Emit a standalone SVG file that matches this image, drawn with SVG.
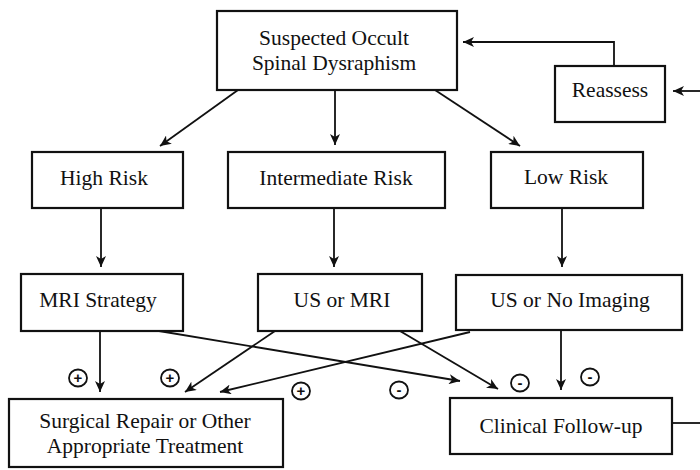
<svg xmlns="http://www.w3.org/2000/svg" width="700" height="470" viewBox="0 0 700 470">
<defs>
<marker id="ah" markerWidth="12" markerHeight="10" refX="11" refY="5" orient="auto" markerUnits="userSpaceOnUse">
<path d="M0,0 L11,5 L0,10 L3,5 z" fill="#111"/>
</marker>
<style>
.box{fill:#fff;stroke:#111;stroke-width:2.2}
.t{font-family:"Liberation Serif","Times New Roman","DejaVu Serif",serif;font-size:21.5px;fill:#111;text-anchor:middle}
.c{fill:none;stroke:#111;stroke-width:1.8}
.a{marker-end:url(#ah)}
.sgn{fill:none;stroke:#111;stroke-width:1.8}
.st{font-family:"Liberation Sans",Arial,sans-serif;font-size:15px;font-weight:bold;fill:#111;text-anchor:middle}
</style>
</defs>
<rect width="700" height="470" fill="#fff"/>
<g id="connectors">
<line class="c a" x1="238" y1="90" x2="160" y2="146"/>
<line class="c a" x1="335" y1="90" x2="335" y2="145"/>
<line class="c a" x1="435" y1="90" x2="520" y2="146"/>
<polyline class="c a" points="614,66 614,42 463,42"/>
<line class="c a" x1="700" y1="91" x2="673" y2="91"/>
<line class="c" x1="672" y1="423" x2="700" y2="423"/>
<line class="c a" x1="101" y1="208" x2="101" y2="267"/>
<line class="c a" x1="334" y1="208" x2="334" y2="267"/>
<line class="c a" x1="562" y1="208" x2="562" y2="267"/>
<line class="c a" x1="100" y1="331" x2="100" y2="392"/>
<line class="c a" x1="159" y1="331" x2="460" y2="381"/>
<line class="c a" x1="275" y1="331" x2="185" y2="392"/>
<line class="c a" x1="400" y1="331" x2="498" y2="389"/>
<line class="c a" x1="470" y1="332" x2="220" y2="392"/>
<line class="c a" x1="561" y1="330" x2="561" y2="390"/>
</g>
<g id="signs">
<ellipse class="sgn" cx="78" cy="378" rx="9" ry="8.5"/><text class="st" x="78" y="383">+</text>
<ellipse class="sgn" cx="170" cy="378" rx="9" ry="8.5"/><text class="st" x="170" y="383">+</text>
<ellipse class="sgn" cx="301" cy="391" rx="9" ry="8.5"/><text class="st" x="301" y="396">+</text>
<ellipse class="sgn" cx="399" cy="390" rx="9" ry="8.5"/><text class="st" x="399" y="395">-</text>
<ellipse class="sgn" cx="520" cy="383" rx="9" ry="8.5"/><text class="st" x="520" y="388">-</text>
<ellipse class="sgn" cx="590" cy="377" rx="9" ry="8.5"/><text class="st" x="590" y="382">-</text>
</g>
<g id="suspected">
<rect class="box" x="217" y="11" width="240" height="79"/>
<text class="t" x="334" y="45" font-family="Liberation Serif, serif">Suspected Occult</text>
<text class="t" x="334" y="70" font-family="Liberation Serif, serif">Spinal Dysraphism</text>
</g>
<g id="reassess">
<rect class="box" x="555" y="66" width="110" height="56"/>
<text class="t" x="610" y="97" font-family="Liberation Serif, serif">Reassess</text>
</g>
<g id="high-risk">
<rect class="box" x="32" y="152" width="151" height="56"/>
<text class="t" x="104" y="185" font-family="Liberation Serif, serif">High Risk</text>
</g>
<g id="intermediate-risk">
<rect class="box" x="228" y="152" width="217" height="56"/>
<text class="t" x="336" y="185" font-family="Liberation Serif, serif">Intermediate Risk</text>
</g>
<g id="low-risk">
<rect class="box" x="491" y="152" width="152" height="56"/>
<text class="t" x="566" y="184" font-family="Liberation Serif, serif">Low Risk</text>
</g>
<g id="mri-strategy">
<rect class="box" x="21" y="274" width="162" height="57"/>
<text class="t" x="98" y="307" font-family="Liberation Serif, serif">MRI Strategy</text>
</g>
<g id="us-or-mri">
<rect class="box" x="258" y="274" width="164" height="57"/>
<text class="t" x="342" y="307" font-family="Liberation Serif, serif">US or MRI</text>
</g>
<g id="us-or-no-imaging">
<rect class="box" x="456" y="275" width="226" height="55"/>
<text class="t" x="570" y="307" font-family="Liberation Serif, serif">US or No Imaging</text>
</g>
<g id="surgical">
<rect class="box" x="9" y="399" width="274" height="68"/>
<text class="t" x="145" y="428" font-family="Liberation Serif, serif">Surgical Repair or Other</text>
<text class="t" x="145" y="453" font-family="Liberation Serif, serif">Appropriate Treatment</text>
</g>
<g id="clinical-follow-up">
<rect class="box" x="450" y="398" width="222" height="56"/>
<text class="t" x="561" y="433" font-family="Liberation Serif, serif">Clinical Follow-up</text>
</g>
</svg>
